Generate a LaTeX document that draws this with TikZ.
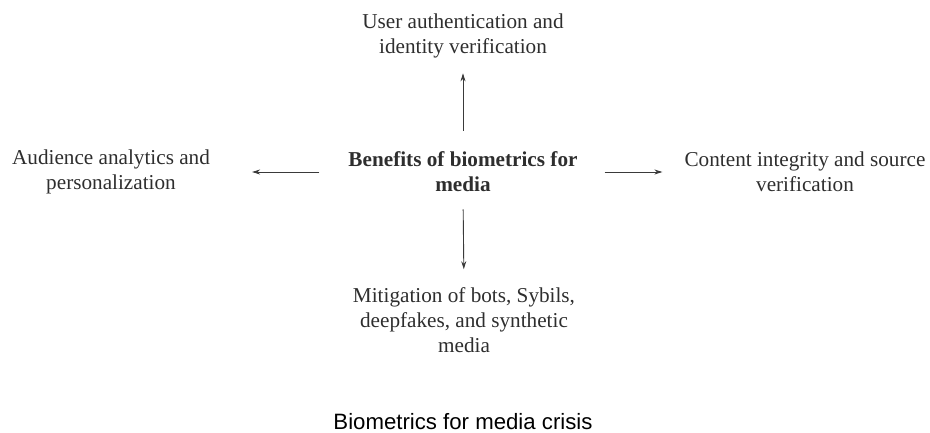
\documentclass[tikz,border=0pt]{standalone}
\usepackage{fontspec}
\setmainfont{Liberation Serif}
\newfontfamily\capfont{Liberation Sans}
\usetikzlibrary{arrows.meta}
\definecolor{txt}{HTML}{2E2E2E}
\definecolor{arrowc}{HTML}{3A3A3A}
\tikzset{
  lbl/.style={align=center, inner sep=0pt, text=txt, font=\fontsize{21.2}{25}\selectfont},
  arr/.style={draw=arrowc, line width=0.9pt, -{Stealth[length=8pt,width=5pt]}}
}
\begin{document}
\begin{tikzpicture}[x=1pt,y=-1pt]
\useasboundingbox (0,0) rectangle (930,433);
\node[lbl, font=\bfseries\fontsize{21.2}{25}\selectfont] (c) at (463,172) {Benefits of biometrics for\\media};
\node[lbl] (t) at (463,36) {User authentication and\\identity verification};
\node[lbl] (l) at (111,172) {Audience analytics and\\personalization};
\node[lbl] (r) at (805,172) {Content integrity and source\\verification};
\node[lbl] (b) at (464,320) {Mitigation of bots, Sybils,\\deepfakes, and synthetic\\media};
\node[inner sep=0pt, text=black, font=\capfont\fontsize{22.2}{26}\selectfont] (cap) at (463,422) {Biometrics for media crisis};
\draw[arr, shorten <=21pt, shorten >=15pt] (c.north) -- (t.south);
\draw[arr, shorten <=17pt, shorten >=18pt] (c.south) -- (b.north);
\draw[arr, shorten <=29pt, shorten >=42pt] (c.west) -- (l.east);
\draw[arr, shorten <=27pt, shorten >=22pt] (c.east) -- (r.west);
\end{tikzpicture}
\end{document}
